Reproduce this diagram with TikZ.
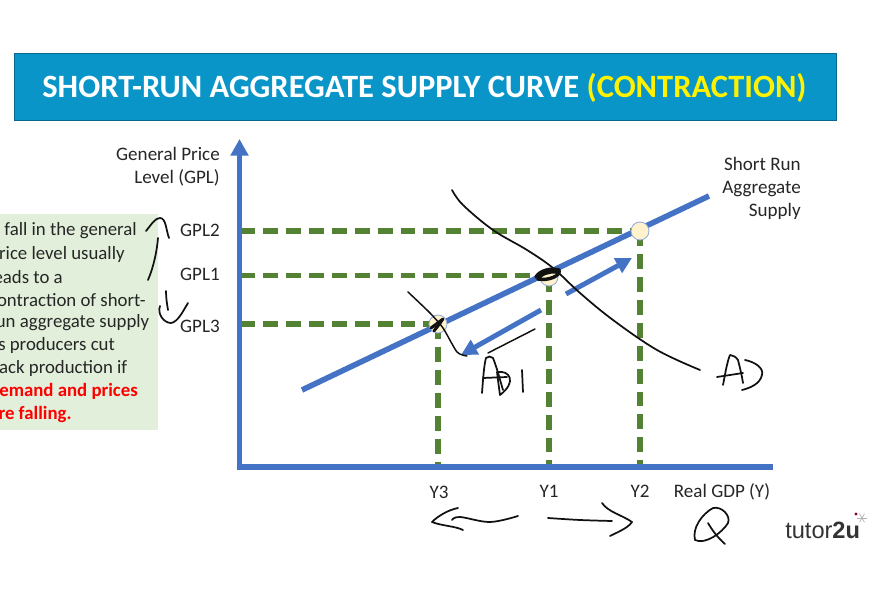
\documentclass[tikz,border=0pt]{standalone}
\usepackage{fontspec}
\setmainfont{Carlito}
\setsansfont{Liberation Sans}
\usetikzlibrary{arrows.meta}
\definecolor{ttl}{HTML}{0A95C9}
\definecolor{axisb}{HTML}{4472C4}
\definecolor{dgreen}{HTML}{548235}
\definecolor{pale}{HTML}{E2EFDA}
\definecolor{dotf}{HTML}{FFF2CC}
\definecolor{inkk}{HTML}{111111}
\tikzset{
 x=0.75pt,y=-0.75pt,
 lbl/.style={font=\fontsize{14.3pt}{17.2pt}\selectfont,text=black!85,inner sep=0pt},
 lbr/.style={lbl,align=right},
 guide/.style={draw=dgreen,line width=4pt,dash pattern=on 11.2pt off 6pt},
 bluel/.style={draw=axisb,line width=4.2pt},
 bluea/.style={draw=axisb,line width=3.7pt,-{Triangle[length=12pt,width=12pt]}},
 dotn/.style={circle,draw=axisb!60,fill=dotf,line width=0.6pt,minimum size=13.5pt,inner sep=0pt},
 ink/.style={draw=inkk,line width=1.3pt,line cap=round,line join=round},
 side/.style={font=\fontsize{14.1pt}{17.2pt}\selectfont,text=black!85,inner sep=0pt,anchor=west},
 sidered/.style={side,font=\bfseries\fontsize{14.1pt}{17.2pt}\selectfont,text=red},
}
\begin{document}
\begin{tikzpicture}
\useasboundingbox (0,0) rectangle (886,616);
\clip (0,0) rectangle (886,616);
\fill[white] (0,0) rectangle (886,616);
\node[fill=ttl,draw=ttl!70!black,line width=0.3pt,minimum width=616.5pt,minimum height=50pt,anchor=north west,inner sep=0pt] (banner) at (14,53) {};
\node[anchor=center,font=\bfseries\fontsize{24.4pt}{28pt}\selectfont,text=white] (title) at (424.5,88) {SHORT-RUN AGGREGATE SUPPLY CURVE \textcolor{yellow}{(CONTRACTION)}};
% side box
\node[fill=pale,minimum width=130pt,minimum height=162pt,anchor=north east,inner sep=0pt] (sidebox) at (158,214) {};
\node[side] (s1) at (-11,231) {A fall in the general};
\node[side] (s2) at (-11,254) {price level usually};
\node[side] (s3) at (-11,277) {leads to a};
\node[side] (s4) at (-11,300) {contraction of short-};
\node[side] (s5) at (-11,323) {run aggregate supply};
\node[side] (s6) at (-11,345) {as producers cut};
\node[side] (s7) at (-11,368) {back production if};
\node[sidered] (s8) at (-11,391) {demand and prices};
\node[sidered] (s9) at (-11,414) {are falling.};
% guides
\coordinate (o) at (239.5,467);
\coordinate (ytop) at (239.5,139);
\coordinate (xend) at (773,467);
\coordinate (sa) at (302,390);
\coordinate (sb) at (709,196);
\coordinate (d2) at (640,231);
\coordinate (d1) at (549,277);
\coordinate (d3) at (438,324);
\draw[guide] (240,231) -- (d2);
\draw[guide] (240,275.5) -- (d1 |- 0,275.5);
\draw[guide] (240,324) -- (d3);
\draw[guide] (d2) -- (640,467);
\draw[guide] (d1) -- (549,467);
\draw[guide] (d3) -- (438,467);
% axes
\draw[draw=axisb,line width=4.2pt,-{Triangle[length=12.5pt,width=13pt]}] (o) -- (ytop);
\draw[bluel] (237,467) -- (xend);
\draw[bluel] (sa) -- (sb);
\node[dotn] (n2) at (d2) {};
\node[dotn] (n1) at (d1) {};
\node[dotn] (n3) at (d3) {};
\coordinate (a1s) at (566,294);
\coordinate (a1e) at (632,258);
\coordinate (a2s) at (541,310);
\coordinate (a2e) at (461,355);
\draw[bluea] (a1s) -- (a1e);
\draw[bluea] (a2s) -- (a2e);
% labels
\node[lbr,anchor=north east] (ylab) at (220,147) {General Price\\Level (GPL)};
\node[lbl,anchor=east] (g2) at (220,230.5) {GPL2};
\node[lbl,anchor=east] (g1) at (220,274.5) {GPL1};
\node[lbl,anchor=east] (g3) at (220,326) {GPL3};
\node[lbr,anchor=north east] (srlab) at (801,157) {Short Run\\Aggregate\\Supply};
\node[lbl] (y3) at (439,492) {Y3};
\node[lbl] (y1) at (549,491) {Y1};
\node[lbl] (y2) at (640,491) {Y2};
\node[lbl] (xlab) at (722,492) {Real GDP (Y)};
% logo
\node[font=\sffamily\fontsize{17.7pt}{19pt}\selectfont,text=black!80,inner sep=0pt,anchor=west] (logo) at (785,530) {tutor\textbf{2u}};
\fill[purple!70!black] (856,514) circle (1.6);
\foreach \a in {0,60,...,300}{\draw[gray!60,line width=0.5pt] (862,518) -- ++(\a:5);}
% hand-drawn: AD curve
\draw[ink] plot[smooth,tension=0.6] coordinates {(452,190) (463,205) (493,230) (527,250) (553,268) (580,293) (613,320) (657,350) (700,370)};
% AD1 curve
\draw[ink,line width=1.1pt] plot[smooth,tension=0.4] coordinates {(408,292) (430,313) (443,328) (457,352) (467,356)};
\draw[ink,line width=1.1pt] (488,353) -- (535,329);
% scribbled points
\draw[ink,line width=2.6pt] (536,277) .. controls (540,270) and (552,268) .. (559,270) .. controls (561,276) and (548,281) .. (538,279) .. controls (540,274) and (550,271) .. (556,272);
\draw[ink,line width=2.2pt] (431,328) -- (443,319) -- (434,331) -- (441,322);
% AD1 letters
\draw[ink] (482,393) .. controls (483,380) and (484,365) .. (486,358) .. controls (488,356) and (491,356) .. (493,358) .. controls (497,368) and (500,380) .. (503,390);
\draw[ink] (483,378) -- (507,377);
\draw[ink] (497,372) .. controls (510,370) and (517,382) .. (500,395) .. controls (499,388) and (498,380) .. (497,372);
\draw[ink] (522,370) -- (523,392);
% AD letters
\draw[ink] (723,385) .. controls (725,375) and (727,362) .. (730,355) .. controls (733,355) and (736,357) .. (738,360) .. controls (740,368) and (742,376) .. (743,383);
\draw[ink] (717,377) -- (743,373);
\draw[ink] (745,360) .. controls (755,362) and (764,368) .. (762,375) .. controls (760,384) and (750,388) .. (742,390);
% annotations by the side box
\draw[ink] (146,231) .. controls (151,225) and (155,218) .. (160,218) .. controls (166,218) and (166,230) .. (169,238);
\draw[ink] (158,238) .. controls (157,250) and (154,266) .. (148,280);
\draw[ink] (166,291) .. controls (166,298) and (167,304) .. (168,310);
\draw[ink] (160,306) .. controls (157,314) and (164,323) .. (171,323) .. controls (178,322) and (183,311) .. (188,303);
% arrows below axis
\draw[ink] plot[smooth,tension=0.6] coordinates {(518,516) (490,522) (460,517) (452,520)};
\draw[ink] (458,508) .. controls (448,510) and (438,516) .. (432,522) .. controls (442,526) and (455,526) .. (463,530);
\draw[ink] plot[smooth,tension=0.6] coordinates {(548,518) (580,520) (612,521)};
\draw[ink] (602,503) .. controls (608,512) and (622,515) .. (632,522) .. controls (628,528) and (618,532) .. (610,536);
% Q
\draw[ink] (713,508) .. controls (702,514) and (692,528) .. (695,540) .. controls (705,545) and (722,533) .. (728,523) .. controls (731,516) and (722,506) .. (713,508);
\draw[ink] (708,523) .. controls (712,530) and (718,538) .. (725,544);
\end{tikzpicture}
\end{document}
